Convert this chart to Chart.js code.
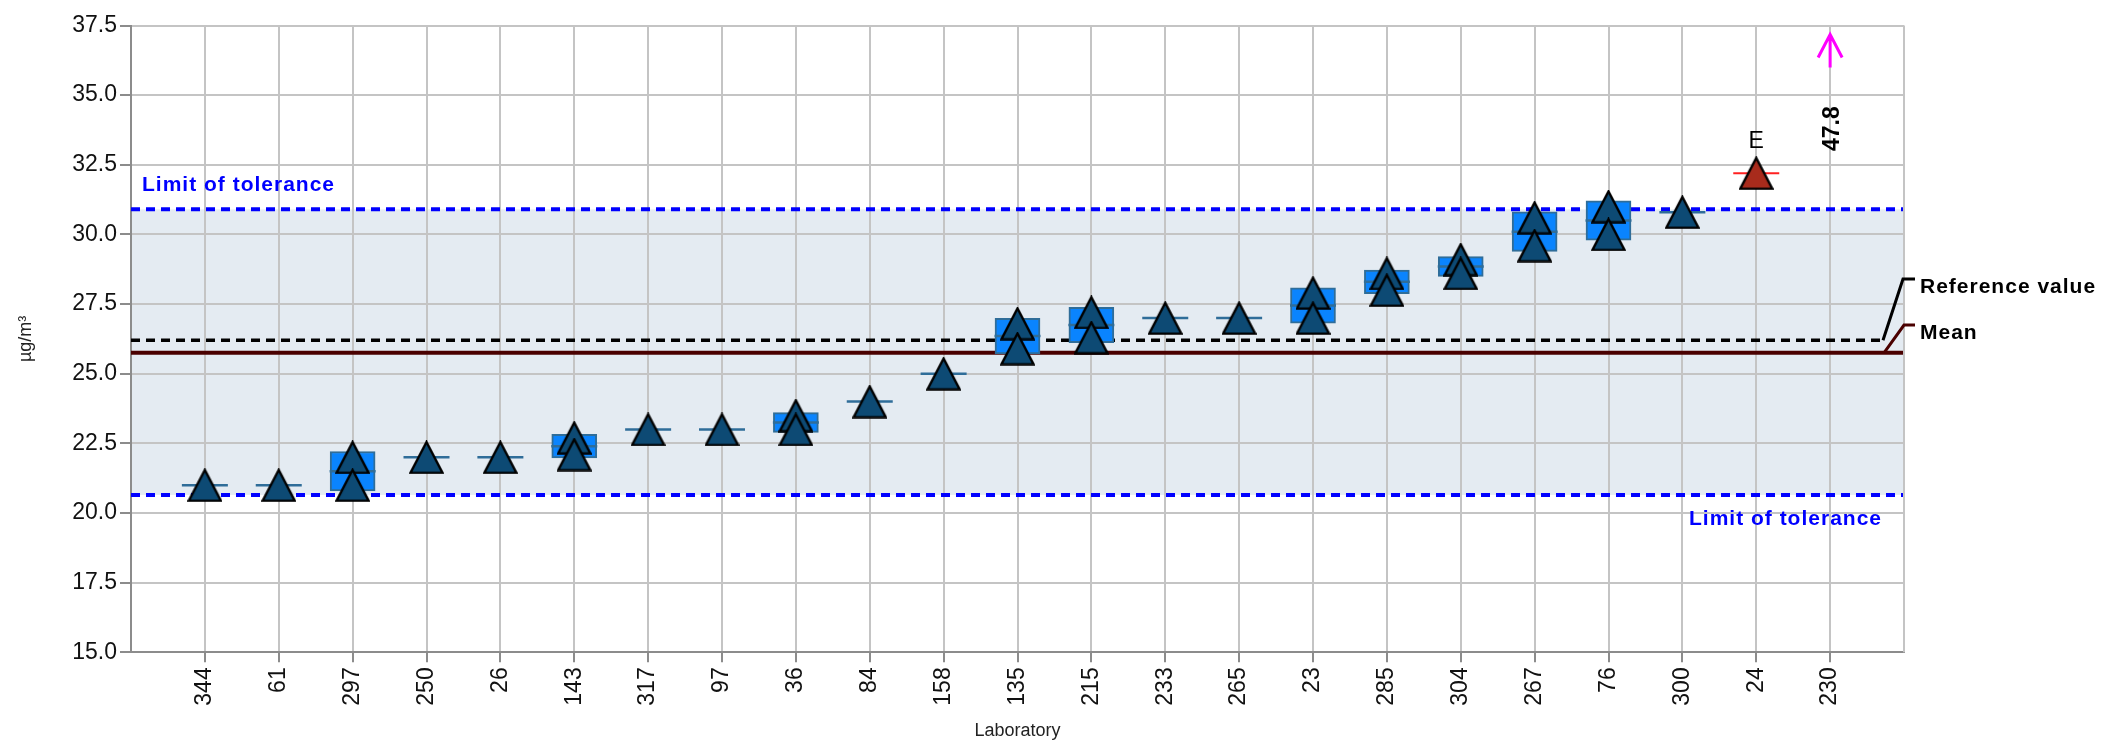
<!DOCTYPE html>
<html>
<head>
<meta charset="utf-8">
<script src="https://cdn.jsdelivr.net/npm/chart.js@4.4.1/dist/chart.umd.min.js"></script>
<style>
    html, body { margin: 0; padding: 0; background: #fff; }
    #wrap { width: 2103px; height: 744px; }
</style>
</head>
<body>
<div id="wrap"><canvas id="labChart" width="2103" height="744"></canvas></div>
<script>
// laboratory codes, in plot order
const labs = ['344', '61', '297', '250', '26', '143', '317', '97', '36', '84', '158', '135',
    '215', '233', '265', '23', '285', '304', '267', '76', '300', '24', '230'];
// first and second result of each lab (µg/m³), null = only one result
const result1 = [21.0, 21.0, 22.0, 22.0, 22.0, 22.7, 23.0, 23.0, 23.5, 24.0, 25.0, 26.8,
    27.2, 27.0, 27.0, 27.9, 28.6, 29.1, 30.6, 31.0, 30.8, 32.2, 47.8];
const result2 = [null, null, 21.0, null, null, 22.1, null, null, 23.0, null, null, 25.9,
    26.3, null, null, 27.0, 28.0, 28.6, 29.6, 30.0, null, null, null];

const referenceValue = 26.2;
const meanValue = 25.75;
const toleranceUpper = 30.9;
const toleranceLower = 20.65;

const flaggedLab = '24';
const flagText = 'E';
const yMin = 15;
const yMax = 37.5;
const yStep = 2.5;

const blueFill = '#0d4a74';
const redFill = '#a82b1c';

function makeTriangle(fill) {
    const c = document.createElement('canvas');
    c.width = 35;
    c.height = 34;
    const g = c.getContext('2d');
    g.beginPath();
    g.moveTo(17.5, 1.8);
    g.lineTo(33.6, 32.6);
    g.lineTo(1.4, 32.6);
    g.closePath();
    g.fillStyle = fill;
    g.fill();
    g.lineWidth = 2.4;
    g.strokeStyle = '#000';
    g.stroke();
    return c;
}

// per-lab mean and standard deviation
const labStats = labs.map((lab, i) => {
    const vals = [result1[i], result2[i]].filter(v => v !== null);
    const mean = vals.reduce((a, b) => a + b, 0) / vals.length;
    let sd = 0;
    if (vals.length > 1) {
        sd = Math.sqrt(vals.reduce((a, v) => a + (v - mean) ** 2, 0) / (vals.length - 1));
    }
    return { lab, x: i + 1, vals, mean, sd };
});

const inRange = labStats.filter(s => s.vals.every(v => v <= yMax));
const offScale = labStats.filter(s => s.vals.some(v => v > yMax));

const boxData = inRange.filter(s => s.vals.length > 1).map(s => ({ x: s.x, y: [s.mean - s.sd, s.mean + s.sd] }));
const meanMarks = inRange.filter(s => s.lab !== flaggedLab).map(s => ({ x: s.x, y: s.mean }));
const flagMarks = inRange.filter(s => s.lab === flaggedLab).map(s => ({ x: s.x, y: s.mean }));

const blueTri = [];
const redTri = [];
[result1, result2].forEach(arr => {
    inRange.forEach(s => {
        const v = arr[s.x - 1];
        if (v === null) return;
        (s.lab === flaggedLab ? redTri : blueTri).push({ x: s.x, y: v });
    });
});

const xMax = labs.length + 1;

const annotations = {
    id: 'annotations',
    beforeDraw(chart) {
        const { ctx, chartArea } = chart;
        const y = chart.scales.y;
        const top = y.getPixelForValue(toleranceUpper);
        const bottom = y.getPixelForValue(toleranceLower);
        ctx.save();
        ctx.fillStyle = '#e4ebf2';
        ctx.fillRect(chartArea.left, top, chartArea.right - chartArea.left, bottom - top);
        ctx.restore();
    },
    afterDraw(chart) {
        const { ctx, chartArea } = chart;
        const x = chart.scales.x;
        const y = chart.scales.y;
        ctx.save();

        // right frame
        ctx.strokeStyle = '#c4c4c4';
        ctx.lineWidth = 2;
        ctx.beginPath();
        ctx.moveTo(chartArea.right, chartArea.top);
        ctx.lineTo(chartArea.right, chartArea.bottom);
        ctx.stroke();

        ctx.font = 'bold 21px "Liberation Sans", Arial, sans-serif';
        ctx.letterSpacing = '1px';
        ctx.fillStyle = '#0000ff';
        ctx.textAlign = 'left';
        ctx.fillText('Limit of tolerance', chartArea.left + 11, y.getPixelForValue(toleranceUpper) - 18);
        ctx.textAlign = 'right';
        ctx.fillText('Limit of tolerance', chartArea.right - 22, y.getPixelForValue(toleranceLower) + 30);

        // leaders for reference value and mean
        const refY = y.getPixelForValue(referenceValue);
        const meanY = y.getPixelForValue(meanValue);
        const refText = 293;
        const meanText = 339;
        ctx.lineWidth = 3;
        ctx.strokeStyle = '#000';
        ctx.beginPath();
        ctx.moveTo(chartArea.right - 21, refY);
        ctx.lineTo(chartArea.right - 1, refText - 14);
        ctx.lineTo(chartArea.right + 11, refText - 14);
        ctx.stroke();
        ctx.strokeStyle = '#4a0000';
        ctx.beginPath();
        ctx.moveTo(chartArea.right - 20, meanY);
        ctx.lineTo(chartArea.right, meanText - 14);
        ctx.lineTo(chartArea.right + 11, meanText - 14);
        ctx.stroke();
        ctx.fillStyle = '#000';
        ctx.textAlign = 'left';
        ctx.fillText('Reference value', chartArea.right + 16, refText);
        ctx.fillText('Mean', chartArea.right + 16, meanText);

        // flag label
        ctx.letterSpacing = '0px';
        flagMarks.forEach(p => {
            ctx.font = '23px "Liberation Sans", Arial, sans-serif';
            ctx.textAlign = 'center';
            ctx.fillText(flagText, x.getPixelForValue(p.x), y.getPixelForValue(p.y) - 25);
        });

        // off-scale results
        offScale.forEach(s => {
            const px = x.getPixelForValue(s.x);
            ctx.strokeStyle = '#ff00ff';
            ctx.lineWidth = 3;
            ctx.beginPath();
            ctx.moveTo(px, chartArea.top + 42);
            ctx.lineTo(px, chartArea.top + 9);
            ctx.moveTo(px - 12, chartArea.top + 32);
            ctx.lineTo(px, chartArea.top + 9);
            ctx.lineTo(px + 12, chartArea.top + 32);
            ctx.stroke();
            ctx.save();
            ctx.translate(px + 9, 151);
            ctx.rotate(-Math.PI / 2);
            ctx.font = 'bold 23px "Liberation Sans", Arial, sans-serif';
            ctx.fillStyle = '#000';
            ctx.textAlign = 'left';
            ctx.fillText(Math.max(...s.vals).toFixed(1), 0, 0);
            ctx.restore();
        });
        ctx.restore();
    }
};

Chart.defaults.font.family = '"Liberation Sans", Arial, sans-serif';
Chart.defaults.color = '#111';

new Chart(document.getElementById('labChart'), {
    type: 'bar',
    data: {
        datasets: [
            {
                type: 'scatter',
                data: blueTri,
                pointStyle: makeTriangle(blueFill),
                pointRadius: 17,
                pointHoverRadius: 17,
                order: 0
            },
            {
                type: 'scatter',
                data: redTri,
                pointStyle: makeTriangle(redFill),
                pointRadius: 17,
                pointHoverRadius: 17,
                order: 0
            },
            {
                type: 'scatter',
                data: meanMarks,
                pointStyle: 'line',
                pointRadius: 23,
                pointHoverRadius: 23,
                borderColor: '#2f6d99',
                backgroundColor: '#2f6d99',
                pointBorderWidth: 2.5,
                order: 1
            },
            {
                type: 'scatter',
                data: flagMarks,
                pointStyle: 'line',
                pointRadius: 23,
                pointHoverRadius: 23,
                borderColor: '#ff2020',
                backgroundColor: '#ff2020',
                pointBorderWidth: 2,
                order: 1
            },
            {
                type: 'bar',
                data: boxData,
                backgroundColor: '#0a84fe',
                borderColor: '#2f6d99',
                borderWidth: 2,
                borderSkipped: false,
                barThickness: 45,
                order: 2
            },
            {
                type: 'line',
                data: [{ x: 0, y: toleranceUpper }, { x: xMax, y: toleranceUpper }],
                borderColor: '#0000ff',
                borderWidth: 4,
                borderDash: [9, 6],
                pointRadius: 0,
                order: 3
            },
            {
                type: 'line',
                data: [{ x: 0, y: toleranceLower }, { x: xMax, y: toleranceLower }],
                borderColor: '#0000ff',
                borderWidth: 4,
                borderDash: [9, 6],
                pointRadius: 0,
                order: 3
            },
            {
                type: 'line',
                data: [{ x: 0, y: referenceValue }, { x: 23.72, y: referenceValue }],
                borderColor: '#000',
                borderWidth: 3.5,
                borderDash: [9, 6],
                pointRadius: 0,
                order: 3
            },
            {
                type: 'line',
                data: [{ x: 0, y: meanValue }, { x: xMax, y: meanValue }],
                borderColor: '#4a0000',
                borderWidth: 4,
                pointRadius: 0,
                order: 3
            }
        ]
    },
    options: {
        responsive: false,
        animation: false,
        events: [],
        layout: { padding: { top: 17, right: 199, left: 0, bottom: 0 } },
        plugins: {
            legend: { display: false },
            tooltip: { enabled: false }
        },
        scales: {
            x: {
                type: 'linear',
                min: 0,
                max: xMax,
                offset: false,
                afterBuildTicks: scale => {
                    scale.ticks = labs.map((_, i) => ({ value: i + 1 }));
                },
                afterFit: scale => { scale.height = 91.7; },
                ticks: {
                    autoSkip: false,
                    minRotation: 90,
                    maxRotation: 90,
                    padding: 5,
                    font: { size: 23 },
                    color: '#111',
                    callback: v => labs[v - 1]
                },
                grid: { offset: false, color: '#c4c4c4', lineWidth: 2, tickLength: 10, tickColor: '#8c8c8c' },
                border: { color: '#8c8c8c', width: 2 },
                title: {
                    display: true,
                    text: 'Laboratory',
                    font: { size: 18, family: '"Liberation Sans Narrow", "Liberation Sans", Arial, sans-serif' },
                    color: '#222',
                    padding: { top: 0, bottom: 2 }
                }
            },
            y: {
                min: yMin,
                max: yMax,
                afterFit: scale => { scale.width = 131; },
                ticks: {
                    stepSize: yStep,
                    padding: 3,
                    font: { size: 23 },
                    color: '#111',
                    callback: v => v.toFixed(1)
                },
                grid: { color: '#c4c4c4', lineWidth: 2, tickLength: 11, tickColor: '#8c8c8c' },
                border: { color: '#8c8c8c', width: 2 },
                title: {
                    display: true,
                    text: 'µg/m³',
                    font: { size: 18, family: '"Liberation Sans Narrow", "Liberation Sans", Arial, sans-serif' },
                    color: '#222',
                    padding: { top: 15, bottom: 0 }
                }
            }
        }
    },
    plugins: [annotations]
});
</script>
</body>
</html>
